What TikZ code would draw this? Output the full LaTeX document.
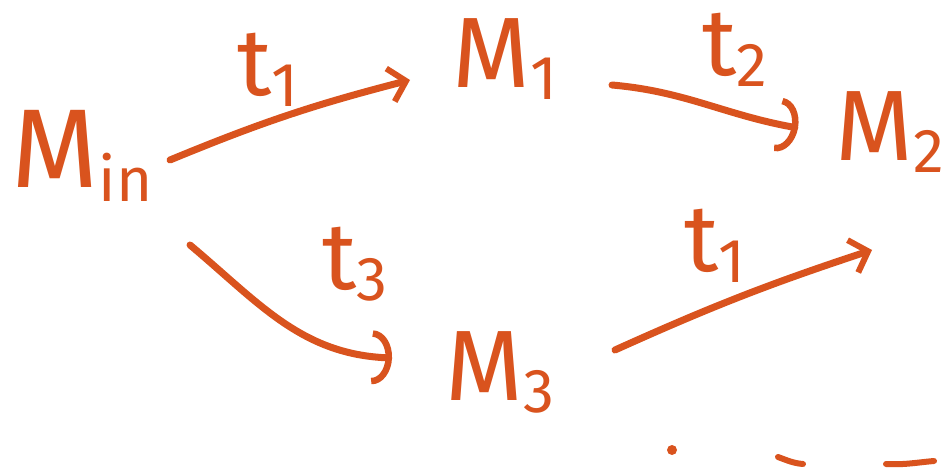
\documentclass[tikz,border=0pt]{standalone}
\usepackage{fontspec}
\setmainfont{Fira Sans}
\usetikzlibrary{arrows.meta}
\definecolor{ink}{HTML}{D9531E}
\newcommand\subx[1]{\raisebox{-0.12em}{\fontsize{62}{62}\selectfont #1}}
\begin{document}
\begin{tikzpicture}[x=1pt,y=1pt,
  st/.style={text=ink,font=\fontsize{100}{100}\selectfont,inner sep=0pt},
  lab/.style={text=ink,font=\fontsize{95}{95}\selectfont,inner sep=0pt},
  conn/.style={draw=ink,line width=7pt,line cap=round},
  barb/.style={-{Straight Barb[length=16pt,width=34pt,line width=6pt]}},
  arcb/.style={-{Arc Barb[length=20pt,width=54pt,line width=6.5pt]}},
  ]
\useasboundingbox (0,0) rectangle (952,474);
\node[st,font=\fontsize{112}{112}\selectfont] (mi) at (82,318) {M\subx{in}};
\node[st] (m1) at (505,415) {M\subx{1}};
\node[st] (m2) at (890,342) {M\subx{2}};
\node[st] (m3) at (500,102) {M\subx{3}};
\node[lab] (l1) at (268,404) {t\subx{1}};
\node[lab] (l2) at (735,424) {t\subx{2}};
\node[lab] (l3) at (355,210) {t\subx{3}};
\node[lab] (l4) at (715,228) {t\subx{1}};
\coordinate (e4) at (872,224);
\draw[conn,barb] ([shift={(88,-4)}]mi.center) to[bend left=4] ([shift={(-95,-21)}]m1.center);
\draw[conn,arcb] ([shift={(107,-26)}]m1.center) to[out=-5,in=170] ([shift={(-92,4)}]m2.center);
\draw[conn,arcb] ([shift={(108,-89)}]mi.center) to[out=-40,in=178] ([shift={(-108,14)}]m3.center);
\draw[conn,barb] ([shift={(115,22)}]m3.center) to[bend left=3] (e4);
\fill[ink] (672,24) circle (5pt);
\draw[conn,line width=6pt] (778,17) to[out=-20,in=175] (803,10);
\draw[conn,line width=6pt] (886,10) to[out=-3,in=185] (934,13);
\end{tikzpicture}
\end{document}
